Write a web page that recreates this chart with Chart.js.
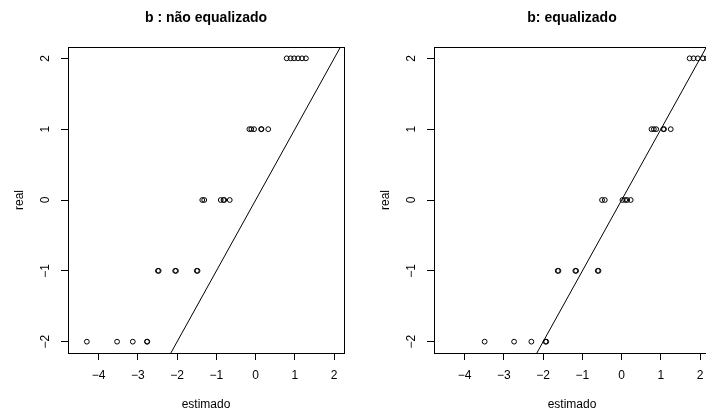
<!DOCTYPE html>
<html>
<head>
<meta charset="utf-8">
<script src="https://cdn.jsdelivr.net/npm/chart.js@4.4.1/dist/chart.umd.min.js"></script>
<style>
    html, body { margin: 0; padding: 0; background: #fff; overflow: hidden; }
    #wrap { position: relative; width: 706px; height: 416px; overflow: hidden; }
    #wrap canvas { position: absolute; top: 0; }
    #chart-left { left: 0; }
    #chart-right { left: 366px; }
</style>
</head>
<body>
<div id="wrap">
    <canvas id="chart-left" width="360" height="416"></canvas>
    <canvas id="chart-right" width="360" height="416"></canvas>
</div>
<script>
// data: estimated value vs real class
var realLevels = [-2, -1, 0, 1, 2];

var estLeft = [
    [-4.30, -3.53, -3.13, -2.77, -2.76],
    [-2.49, -2.47, -2.05, -2.03, -1.50, -1.48],
    [-1.36, -1.31, -0.89, -0.82, -0.80, -0.66],
    [-0.16, -0.11, -0.04, 0.14, 0.15, 0.32],
    [0.79, 0.89, 0.98, 1.08, 1.18, 1.28]
];

var estRight = [
    [-3.49, -2.74, -2.30, -1.94, -1.92],
    [-1.63, -1.61, -1.18, -1.16, -0.61, -0.59],
    [-0.50, -0.43, 0.02, 0.09, 0.14, 0.23],
    [0.76, 0.82, 0.88, 1.06, 1.08, 1.25],
    [1.73, 1.83, 1.94, 2.07, 2.17]
];

var xTicks = [-4, -3, -2, -1, 0, 1, 2];
var yTicks = [-2, -1, 0, 1, 2];
var xLimits = [-4.78, 2.25];
var yLimits = [-2.16, 2.16];

// abline(a, b)
var refLine = { a: 0, b: 1 };

var titleLeft = "b : não equalizado";
var titleRight = "b: equalizado";
var xTitle = "estimado";
var yTitle = "real";

(function () {
    "use strict";

    var font = "'Liberation Sans', Arial, Helvetica, sans-serif";
    Chart.defaults.font.family = font;
    Chart.defaults.color = "#000";

    function toPoints(groups) {
        var pts = [];
        groups.forEach(function (xs, i) {
            xs.forEach(function (x) {
                pts.push({ x: x, y: realLevels[i] });
            });
        });
        return pts;
    }

    function lineEnds() {
        return xLimits.map(function (x) {
            return { x: x, y: refLine.a + refLine.b * x };
        });
    }

    function minus(v) {
        return String(v).replace("-", "\u2212");
    }

    // R style box round the plot region
    var boxPlugin = {
        id: "box",
        afterDraw: function (chart) {
            var a = chart.chartArea;
            var c = chart.ctx;
            c.save();
            c.strokeStyle = "#000";
            c.lineWidth = 1;
            c.strokeRect(Math.round(a.left) + 0.5, Math.round(a.top) + 0.5,
                Math.round(a.right - a.left), Math.round(a.bottom - a.top));
            c.restore();
        }
    };

    function makeChart(id, groups, title) {
        var ctx = document.getElementById(id).getContext("2d");
        return new Chart(ctx, {
            type: "scatter",
            data: {
                datasets: [{
                    data: toPoints(groups),
                    pointRadius: 2.4,
                    pointHoverRadius: 2.4,
                    borderWidth: 1,
                    borderColor: "#000",
                    backgroundColor: "rgba(0,0,0,0)"
                },
                {
                    type: "line",
                    data: lineEnds(),
                    borderColor: "#000",
                    borderWidth: 1,
                    pointRadius: 0,
                    fill: false
                }]
            },
            options: {
                responsive: false,
                animation: false,
                events: [],
                layout: { padding: { top: 0, right: 16, bottom: 0, left: 0 } },
                plugins: {
                    legend: { display: false },
                    tooltip: { enabled: false },
                    title: {
                        display: true,
                        text: title,
                        fullSize: false,
                        color: "#000",
                        font: { size: 14, weight: "bold" },
                        padding: { top: 9.6, bottom: 20.6 }
                    }
                },
                scales: {
                    x: {
                        type: "linear",
                        min: xLimits[0],
                        max: xLimits[1],
                        offset: false,
                        afterBuildTicks: function (s) {
                            s.ticks = xTicks.map(function (v) { return { value: v }; });
                        },
                        afterFit: function (s) { s.height = 63; },
                        border: { display: false },
                        grid: { drawOnChartArea: false, drawTicks: true, tickLength: 7, color: "#000" },
                        ticks: {
                            padding: 8,
                            maxRotation: 0,
                            font: { size: 12 },
                            callback: function (v) { return minus(v); }
                        },
                        title: {
                            display: true,
                            text: xTitle,
                            font: { size: 12 },
                            padding: { top: 0, bottom: 4 }
                        }
                    },
                    y: {
                        type: "linear",
                        min: yLimits[0],
                        max: yLimits[1],
                        offset: false,
                        afterBuildTicks: function (s) {
                            s.ticks = yTicks.map(function (v) { return { value: v }; });
                        },
                        afterFit: function (s) { s.width = 68; },
                        border: { display: false },
                        grid: { drawOnChartArea: false, drawTicks: true, tickLength: 7, color: "#000" },
                        ticks: {
                            padding: 8,
                            minRotation: 90,
                            maxRotation: 90,
                            crossAlign: "center",
                            font: { size: 12 },
                            callback: function (v) { return minus(v); }
                        },
                        title: {
                            display: true,
                            text: yTitle,
                            font: { size: 12 },
                            padding: { top: 12, bottom: 0 }
                        }
                    }
                }
            },
            plugins: [boxPlugin]
        });
    }

    makeChart("chart-left", estLeft, titleLeft);
    makeChart("chart-right", estRight, titleRight);
})();
</script>
</body>
</html>
